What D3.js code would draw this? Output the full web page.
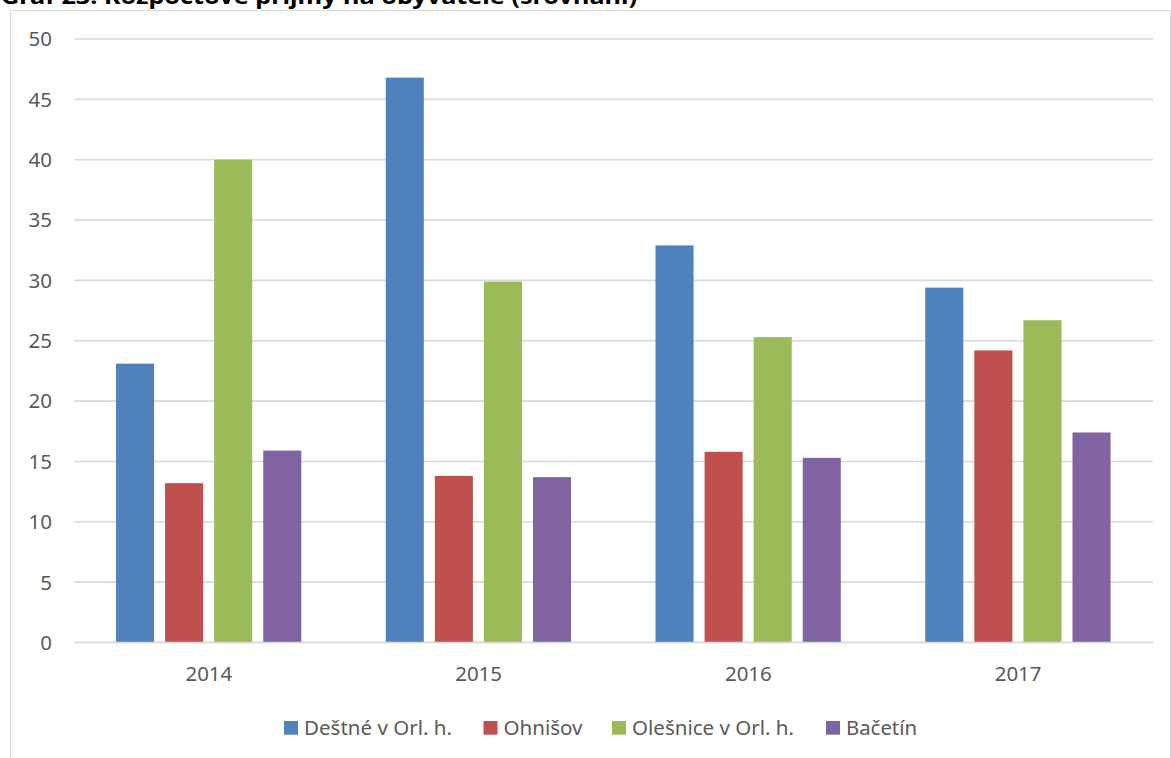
<!DOCTYPE html>
<html>
<head>
<meta charset="utf-8">
<script src="https://cdn.jsdelivr.net/npm/d3@7"></script>
<style>
  html, body { margin: 0; padding: 0; background: #ffffff; }
  svg { display: block; }
</style>
</head>
<body>
<script>
const titleText = "Graf 23: Rozpočtové příjmy na obyvatele (srovnání)";
const years = ["2014", "2015", "2016", "2017"];
const seriesNames = ["Deštné v Orl. h.", "Ohnišov", "Olešnice v Orl. h.", "Bačetín"];
const destne = [23.1, 46.8, 32.9, 29.4];
const ohnisov = [13.2, 13.8, 15.8, 24.2];
const olesnice = [40.0, 29.9, 25.3, 26.7];
const bacetin = [15.9, 13.7, 15.3, 17.4];
const yTicks = [0, 5, 10, 15, 20, 25, 30, 35, 40, 45, 50];
const colors = ["#4f81bd", "#c0504d", "#9bbb59", "#8064a2"];

const seriesValues = [destne, ohnisov, olesnice, bacetin];

const W = 1171, H = 758;
const svg = d3.select("body").append("svg").attr("width", W).attr("height", H);
const font = "'Noto Sans', 'Open Sans', sans-serif";

// chart area border
svg.append("rect")
  .attr("x", 10.5).attr("y", 10.5)
  .attr("width", 1160).attr("height", 800)
  .attr("fill", "#ffffff").attr("stroke", "#d9d9d9").attr("stroke-width", 1);

// title (cut off at the top)
svg.append("text")
  .attr("x", 1).attr("y", 4)
  .attr("font-family", font).attr("font-weight", "bold")
  .attr("font-size", 21).attr("fill", "#000000")
  .attr("textLength", 636).attr("lengthAdjust", "spacingAndGlyphs")
  .text(titleText);

const plotLeft = 74, plotRight = 1153;
const y = d3.scaleLinear().domain([0, 50]).range([642.5, 39]);
const x0 = d3.scaleBand().domain(years).range([plotLeft, plotRight]).padding(0);
const x1 = d3.scaleBand().domain(seriesNames).range([42, 227.3]).paddingInner(0.2245).paddingOuter(0);

// gridlines
svg.append("g").selectAll("line").data(yTicks).join("line")
  .attr("x1", plotLeft).attr("x2", plotRight)
  .attr("y1", d => y(d)).attr("y2", d => y(d))
  .attr("stroke", "#d9d9d9").attr("stroke-width", 1.6);

// y tick labels
svg.append("g").selectAll("text").data(yTicks).join("text")
  .attr("x", 52).attr("y", d => y(d))
  .attr("dy", "0.36em")
  .attr("text-anchor", "end")
  .attr("font-family", font).attr("font-size", 20.5).attr("fill", "#595959")
  .text(d => d);

// bars
const barData = [];
years.forEach((yr, i) => {
  seriesNames.forEach((s, j) => {
    barData.push({ year: yr, series: s, value: seriesValues[j][i], color: colors[j] });
  });
});
svg.append("g").selectAll("rect").data(barData).join("rect")
  .attr("x", d => x0(d.year) + x1(d.series))
  .attr("y", d => y(d.value))
  .attr("width", x1.bandwidth())
  .attr("height", d => y(0) - y(d.value))
  .attr("fill", d => d.color);

// x axis line
svg.append("line")
  .attr("x1", plotLeft).attr("x2", plotRight)
  .attr("y1", y(0)).attr("y2", y(0))
  .attr("stroke", "#d9d9d9").attr("stroke-width", 1.6);

// x labels
svg.append("g").selectAll("text").data(years).join("text")
  .attr("x", d => x0(d) + x0.bandwidth() / 2)
  .attr("y", 681)
  .attr("text-anchor", "middle")
  .attr("font-family", font).attr("font-size", 20.5).attr("fill", "#595959")
  .text(d => d);

// legend
const legendX = [284, 483.5, 612, 826];
const legendW = [148, 79, 162, 71];
const lg = svg.append("g").selectAll("g").data(seriesNames).join("g")
  .attr("transform", (d, i) => `translate(${legendX[i]},0)`);
lg.append("rect")
  .attr("x", 0).attr("y", 721).attr("width", 14).attr("height", 13.7)
  .attr("fill", (d, i) => colors[i]);
lg.append("text")
  .attr("x", 20).attr("y", 734.7)
  .attr("font-family", font).attr("font-size", 20.5).attr("fill", "#595959")
  .attr("textLength", (d, i) => legendW[i]).attr("lengthAdjust", "spacingAndGlyphs")
  .text(d => d);
</script>
</body>
</html>
